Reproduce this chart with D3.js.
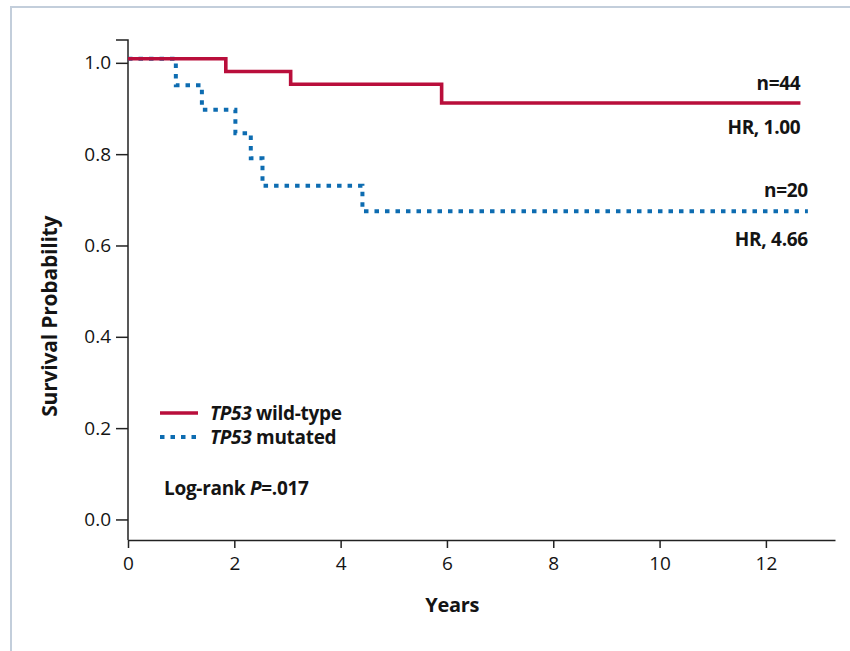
<!DOCTYPE html>
<html>
<head>
<meta charset="utf-8">
<script src="https://cdn.jsdelivr.net/npm/d3@7"></script>
<style>
  html, body { margin: 0; padding: 0; background: #fff; }
  svg { display: block; font-family: "Open Sans", "Noto Sans", sans-serif; }
</style>
</head>
<body>
<svg id="chart" width="850" height="651"></svg>
<script>
// Kaplan–Meier steps: [time in years, survival probability]
const wildTypeSteps = [[0, 1.009], [1.84, 0.981], [3.06, 0.953], [5.9, 0.912], [12.65, 0.912]];
const mutatedSteps = [[0, 1.009], [0.9, 0.951], [1.39, 0.897], [2.02, 0.846], [2.31, 0.791],
                      [2.53, 0.731], [4.41, 0.675], [12.79, 0.675]];

const xTicks = [0, 2, 4, 6, 8, 10, 12];
const yTicks = [0, 0.2, 0.4, 0.6, 0.8, 1.0];

const seriesNames = ["wild-type", "mutated"];
const seriesN = ["n=44", "n=20"];
const seriesHR = ["HR, 1.00", "HR, 4.66"];
const logRankP = ".017";

const red = "#b90e3b";
const blue = "#0d6cb1";
const ink = "#141414";

const svg = d3.select("#chart");

// frame around the figure panel
svg.append("path")
  .attr("d", "M11,651V7H850")
  .attr("fill", "none")
  .attr("stroke", "#c3cedb")
  .attr("stroke-width", 2);

const x = d3.scaleLinear().domain([0, 13.3]).range([128, 835]);
const y = d3.scaleLinear().domain([-0.045, 1.05]).range([540, 40]);

// axes
const xAxis = d3.axisBottom(x).tickValues(xTicks).tickSize(8).tickSizeOuter(0).tickFormat(d3.format("d"));
const gx = svg.append("g").attr("transform", `translate(0,${y(-0.045)})`).call(xAxis);
gx.select(".domain").attr("stroke", "#222").attr("stroke-width", 1.5);
gx.selectAll(".tick line").attr("stroke", "#222").attr("stroke-width", 1.5);
gx.selectAll(".tick text").attr("font-size", 19).attr("fill", ink).attr("dy", "0.98em")
  .attr("font-family", "'Open Sans', sans-serif");

const yAxis = d3.axisLeft(y).tickValues(yTicks).tickSize(12).tickSizeOuter(0).tickFormat(d3.format(".1f"));
const gy = svg.append("g").attr("transform", `translate(${x(0)},0)`).call(yAxis);
gy.select(".domain").remove();
gy.selectAll(".tick line").attr("stroke", "#222").attr("stroke-width", 1.5);
gy.selectAll(".tick text").attr("font-size", 19).attr("fill", ink).attr("x", -17)
  .attr("font-family", "'Open Sans', sans-serif");
// vertical axis line with a short cap at its top end
gy.append("path")
  .attr("d", `M-12,${y(1.05)}H0V${y(-0.045)}`)
  .attr("fill", "none")
  .attr("stroke", "#222")
  .attr("stroke-width", 1.5);

// axis titles
svg.append("text")
  .attr("x", x(6.1)).attr("y", 612)
  .attr("text-anchor", "middle")
  .attr("font-size", 20).attr("font-weight", 700).attr("fill", ink)
  .attr("letter-spacing", -0.3)
  .text("Years");

svg.append("text")
  .attr("transform", `translate(57,${y(0.445)}) rotate(-90)`)
  .attr("text-anchor", "middle")
  .attr("font-size", 21).attr("font-weight", 700).attr("fill", ink)
  .attr("letter-spacing", -0.2)
  .text("Survival Probability");

// survival curves
const line = d3.line().x(d => x(d[0])).y(d => y(d[1])).curve(d3.curveStepAfter);

svg.append("path")
  .datum(mutatedSteps)
  .attr("d", line)
  .attr("fill", "none")
  .attr("stroke", blue)
  .attr("stroke-width", 4)
  .attr("stroke-dasharray", "4.5,6");

svg.append("path")
  .datum(wildTypeSteps)
  .attr("d", line)
  .attr("fill", "none")
  .attr("stroke", red)
  .attr("stroke-width", 3.6);

// right-side annotations
const endW = wildTypeSteps[wildTypeSteps.length - 1];
const endM = mutatedSteps[mutatedSteps.length - 1];
const annot = [
  { t: seriesN[0], xv: endW[0], dy: -13 },
  { t: seriesHR[0], xv: endW[0], dy: 31 },
  { t: seriesN[1], xv: endM[0], dy: -14 },
  { t: seriesHR[1], xv: endM[0], dy: 35 }
];
const annY = [y(endW[1]), y(endW[1]), y(endM[1]), y(endM[1])];
svg.selectAll("text.annot")
  .data(annot)
  .join("text")
  .attr("class", "annot")
  .attr("x", d => x(d.xv))
  .attr("y", (d, i) => annY[i] + d.dy)
  .attr("text-anchor", "end")
  .attr("font-size", 19).attr("font-weight", 700).attr("fill", ink)
  .attr("letter-spacing", -0.3)
  .text(d => d.t);

// legend
const legend = svg.append("g");
const legendRows = [
  { name: seriesNames[0], color: red, dash: null, w: 3.6, y: 413 },
  { name: seriesNames[1], color: blue, dash: "4.5,6", w: 4, y: 437 }
];
legendRows.forEach(r => {
  legend.append("line")
    .attr("x1", 160).attr("x2", 198)
    .attr("y1", r.y).attr("y2", r.y)
    .attr("stroke", r.color).attr("stroke-width", r.w)
    .attr("stroke-dasharray", r.dash);
  const t = legend.append("text")
    .attr("x", 210).attr("y", r.y + 7)
    .attr("font-size", 19).attr("font-weight", 700).attr("fill", ink)
    .attr("letter-spacing", -0.3);
  t.append("tspan").attr("font-style", "italic").text("TP53");
  t.append("tspan").text(" " + r.name);
});

const lr = svg.append("text")
  .attr("x", 164).attr("y", 495)
  .attr("font-size", 19).attr("font-weight", 700).attr("fill", ink)
  .attr("letter-spacing", -0.3);
lr.append("tspan").text("Log-rank ");
lr.append("tspan").attr("font-style", "italic").text("P");
lr.append("tspan").text("=" + logRankP);
</script>
</body>
</html>
